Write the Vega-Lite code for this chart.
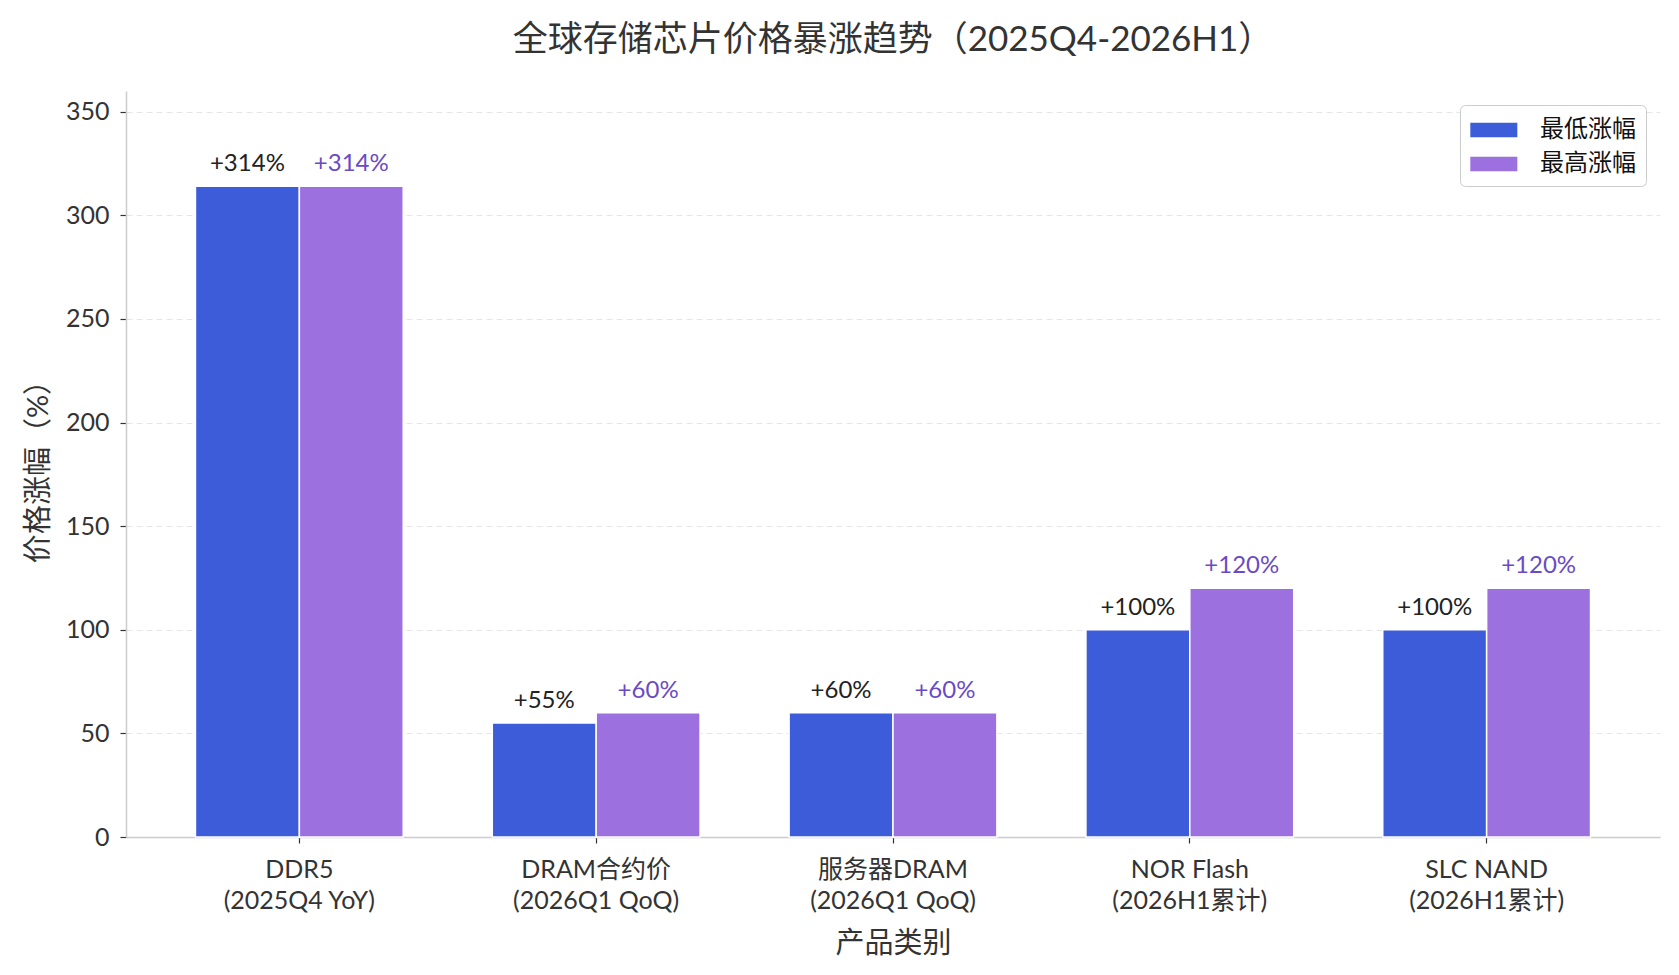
{
  "$schema": "https://vega.github.io/schema/vega-lite/v6.json",
  "autosize": {"type": "none"},
  "padding": {"left": 126, "top": 91, "right": 19, "bottom": 138},
  "width": 1534,
  "height": 746,
  "background": "white",
  "title": {
    "text": "全球存储芯片价格暴涨趋势（2025Q4-2026H1）",
    "font": "Lato, Noto Sans CJK SC",
    "fontSize": 35,
    "fontWeight": "normal",
    "color": "#333333",
    "anchor": "middle",
    "offset": 33
  },
  "config": {
    "font": "Lato, Noto Sans CJK SC",
    "view": {"stroke": null},
    "axis": {
      "labelFont": "Lato, Noto Sans CJK SC",
      "titleFont": "Lato, Noto Sans CJK SC",
      "labelFontSize": 25,
      "titleFontSize": 29,
      "titleFontWeight": "normal",
      "labelColor": "#333333",
      "titleColor": "#333333",
      "domainColor": "#cccccc",
      "domainWidth": 1.5,
      "tickColor": "#333333",
      "tickSize": 6,
      "tickWidth": 1.2
    },
    "legend": {
      "labelFont": "Lato, Noto Sans CJK SC",
      "labelFontSize": 24,
      "labelColor": "#111111"
    }
  },
  "data": {
    "values": [
      {"category": "DDR5|(2025Q4 YoY)", "series": "最低涨幅", "value": 314, "label": "+314%"},
      {"category": "DDR5|(2025Q4 YoY)", "series": "最高涨幅", "value": 314, "label": "+314%"},
      {"category": "DRAM合约价|(2026Q1 QoQ)", "series": "最低涨幅", "value": 55, "label": "+55%"},
      {"category": "DRAM合约价|(2026Q1 QoQ)", "series": "最高涨幅", "value": 60, "label": "+60%"},
      {"category": "服务器DRAM|(2026Q1 QoQ)", "series": "最低涨幅", "value": 60, "label": "+60%"},
      {"category": "服务器DRAM|(2026Q1 QoQ)", "series": "最高涨幅", "value": 60, "label": "+60%"},
      {"category": "NOR Flash|(2026H1累计)", "series": "最低涨幅", "value": 100, "label": "+100%"},
      {"category": "NOR Flash|(2026H1累计)", "series": "最高涨幅", "value": 120, "label": "+120%"},
      {"category": "SLC NAND|(2026H1累计)", "series": "最低涨幅", "value": 100, "label": "+100%"},
      {"category": "SLC NAND|(2026H1累计)", "series": "最高涨幅", "value": 120, "label": "+120%"}
    ]
  },
  "encoding": {
    "x": {
      "field": "category",
      "type": "nominal",
      "sort": null,
      "scale": {"paddingInner": 0.3, "paddingOuter": 0.234},
      "axis": {
        "title": "产品类别",
        "labelAngle": 0,
        "labelExpr": "split(datum.label, '|')",
        "labelPadding": 14,
        "labelLineHeight": 31,
        "titlePadding": 16
      }
    },
    "xOffset": {"field": "series", "type": "nominal", "sort": ["最低涨幅", "最高涨幅"]},
    "y": {
      "field": "value",
      "type": "quantitative",
      "scale": {"domain": [0, 360], "nice": false},
      "axis": {
        "title": "价格涨幅（%）",
        "values": [0, 50, 100, 150, 200, 250, 300, 350],
        "grid": true,
        "gridColor": "#e6e6e6",
        "gridDash": [6, 4],
        "gridWidth": 1.2,
        "labelPadding": 11,
        "titlePadding": 12
      }
    }
  },
  "layer": [
    {
      "mark": {"type": "bar", "stroke": "white", "strokeWidth": 1.5},
      "encoding": {
        "color": {
          "field": "series",
          "type": "nominal",
          "sort": ["最低涨幅", "最高涨幅"],
          "scale": {"domain": ["最低涨幅", "最高涨幅"], "range": ["#3d5cd9", "#9d70e0"]},
          "legend": {
            "title": null,
            "orient": "top-right",
            "offset": 14,
            "fillColor": "white",
            "strokeColor": "#cccccc",
            "cornerRadius": 5,
            "padding": 10,
            "rowPadding": 7,
            "symbolType": "M-1,-0.5L2.2,-0.5L2.2,0.5L-1,0.5Z",
            "symbolSize": 864,
            "symbolStrokeWidth": 0,
            "symbolOpacity": 1,
            "labelOffset": 40
          }
        }
      }
    },
    {
      "mark": {"type": "text", "baseline": "alphabetic", "dy": -15, "fontSize": 24},
      "encoding": {
        "text": {"field": "label", "type": "nominal"},
        "color": {
          "condition": {"test": "datum.series === '最高涨幅'", "value": "#6a4bc4"},
          "value": "#222222"
        }
      }
    }
  ]
}
